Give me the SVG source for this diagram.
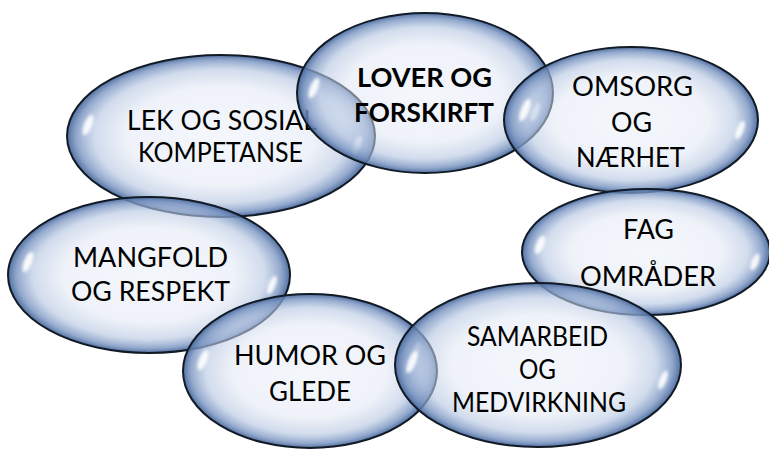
<svg xmlns="http://www.w3.org/2000/svg" width="769" height="451" viewBox="0 0 769 451">
<defs>
<radialGradient id="bub" cx="50%" cy="50%" r="50%">
<stop offset="0" stop-color="#e6ecf7" stop-opacity="0.45"/>
<stop offset="0.6" stop-color="#dfe6f3" stop-opacity="0.5"/>
<stop offset="0.82" stop-color="#b5c6e1" stop-opacity="0.62"/>
<stop offset="0.94" stop-color="#7893c0" stop-opacity="0.82"/>
<stop offset="1" stop-color="#46679b" stop-opacity="0.95"/>
</radialGradient>
<filter id="blur" x="-50%" y="-50%" width="200%" height="200%"><feGaussianBlur stdDeviation="1.6"/></filter>
</defs>
<style>
.b{fill:url(#bub);stroke:#121a26;stroke-width:2}
.h{fill:#ffffff;opacity:0.9;filter:url(#blur)}
.t{font-family:Lato,"Open Sans",sans-serif;font-size:27px;fill:#000}
.tb{font-family:Lato,"Open Sans",sans-serif;font-size:27px;font-weight:bold;fill:#000}
</style>
<rect width="769" height="451" fill="#fff"/>
<g id="lek">
<ellipse class="b" cx="221" cy="136" rx="154" ry="81"/>
<ellipse class="h" cx="88" cy="125" rx="4" ry="11" transform="rotate(22 88 125)"/>
<ellipse class="h" cx="357" cy="145" rx="3.5" ry="10" transform="rotate(22 357 145)"/>
<text class="t" x="127" y="130" textLength="190" lengthAdjust="spacingAndGlyphs">LEK OG SOSIAL</text>
<text class="t" x="138" y="162" textLength="165" lengthAdjust="spacingAndGlyphs">KOMPETANSE</text>
</g>
<g id="lover">
<ellipse class="b" cx="425" cy="93" rx="128" ry="80"/>
<ellipse class="h" cx="314" cy="88" rx="4" ry="11" transform="rotate(22 314 88)"/>
<ellipse class="h" cx="535" cy="112" rx="3.5" ry="10" transform="rotate(22 535 112)"/>
<text class="tb" x="357" y="87" textLength="135" lengthAdjust="spacingAndGlyphs">LOVER OG</text>
<text class="tb" x="354" y="122" textLength="140" lengthAdjust="spacingAndGlyphs">FORSKIRFT</text>
</g>
<g id="omsorg">
<ellipse class="b" cx="631" cy="120" rx="127" ry="73"/>
<ellipse class="h" cx="525" cy="110" rx="4" ry="12" transform="rotate(22 525 110)"/>
<ellipse class="h" cx="740" cy="130" rx="3.5" ry="10" transform="rotate(22 740 130)"/>
<text class="t" x="572" y="96" textLength="121" lengthAdjust="spacingAndGlyphs">OMSORG</text>
<text class="t" x="611" y="132" textLength="41" lengthAdjust="spacingAndGlyphs">OG</text>
<text class="t" x="576" y="167" textLength="109" lengthAdjust="spacingAndGlyphs">NÆRHET</text>
</g>
<g id="fag">
<ellipse class="b" cx="646" cy="252" rx="124" ry="63"/>
<ellipse class="h" cx="540" cy="245" rx="4" ry="10" transform="rotate(22 540 245)"/>
<ellipse class="h" cx="755" cy="262" rx="3.5" ry="9" transform="rotate(22 755 262)"/>
<text class="t" x="623" y="239" textLength="51" lengthAdjust="spacingAndGlyphs">FAG</text>
<text class="t" x="580" y="286" textLength="136" lengthAdjust="spacingAndGlyphs">OMRÅDER</text>
</g>
<g id="mangfold">
<ellipse class="b" cx="149" cy="275" rx="141" ry="78"/>
<ellipse class="h" cx="28" cy="262" rx="4" ry="11" transform="rotate(22 28 262)"/>
<ellipse class="h" cx="272" cy="285" rx="3.5" ry="10" transform="rotate(22 272 285)"/>
<text class="t" x="73" y="267" textLength="155" lengthAdjust="spacingAndGlyphs">MANGFOLD</text>
<text class="t" x="71" y="301" textLength="159" lengthAdjust="spacingAndGlyphs">OG RESPEKT</text>
</g>
<g id="humor">
<ellipse class="b" cx="310" cy="371" rx="127" ry="77"/>
<ellipse class="h" cx="203" cy="360" rx="4" ry="11" transform="rotate(22 203 360)"/>
<ellipse class="h" cx="415" cy="352" rx="3.5" ry="10" transform="rotate(22 415 352)"/>
<text class="t" x="234" y="365" textLength="152" lengthAdjust="spacingAndGlyphs">HUMOR OG</text>
<text class="t" x="269" y="401" textLength="82" lengthAdjust="spacingAndGlyphs">GLEDE</text>
</g>
<g id="samarbeid">
<ellipse class="b" cx="538" cy="365" rx="143" ry="82"/>
<ellipse class="h" cx="412" cy="362" rx="4" ry="12" transform="rotate(22 412 362)"/>
<ellipse class="h" cx="663" cy="380" rx="3.5" ry="10" transform="rotate(22 663 380)"/>
<text class="t" x="467" y="346" textLength="141" lengthAdjust="spacingAndGlyphs">SAMARBEID</text>
<text class="t" x="519" y="379" textLength="37" lengthAdjust="spacingAndGlyphs">OG</text>
<text class="t" x="452" y="412" textLength="174" lengthAdjust="spacingAndGlyphs">MEDVIRKNING</text>
</g>
<g id="connectors"/>
</svg>
